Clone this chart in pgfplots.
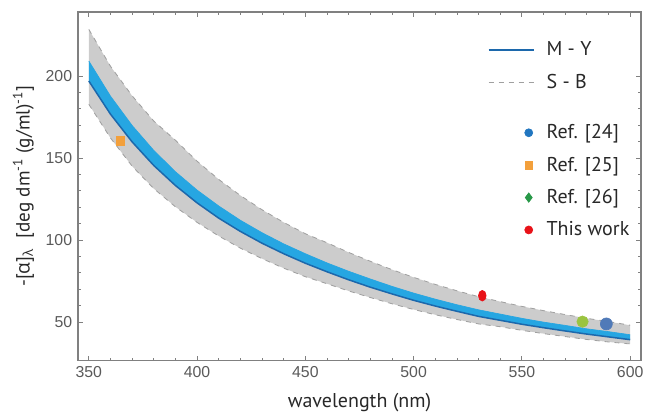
\documentclass[border=0pt]{standalone}
\usepackage{pgfplots}
\pgfplotsset{compat=1.18}
\usepgfplotslibrary{fillbetween}
\usepackage{pgfplotstable}
\usepackage{fontspec}
\setmainfont{PT Sans}
\newfontfamily\tickfont{Liberation Sans}
\newfontfamily\grk{Open Sans}
\definecolor{axisgray}{RGB}{128,128,128}
\definecolor{tickgray}{RGB}{90,90,90}
\definecolor{textdark}{RGB}{40,40,40}
\definecolor{sbfill}{RGB}{204,204,204}
\definecolor{sbedge}{RGB}{160,160,160}
\definecolor{myfill}{RGB}{38,166,226}
\definecolor{mydark}{RGB}{28,104,172}
\definecolor{refA}{RGB}{33,118,192}
\definecolor{refAplot}{RGB}{80,122,184}
\definecolor{refB}{RGB}{243,160,60}
\definecolor{refC}{RGB}{40,152,72}
\definecolor{refCplot}{RGB}{155,196,64}
\definecolor{thiswork}{RGB}{232,18,24}
\pgfplotsset{
  linelegend/.style={legend image code/.code={\draw[##1] (0pt,0pt) -- (27pt,0pt); \path (0pt,0pt) (32pt,0pt);}},
  marklegend/.style={legend image code/.code={\draw[##1] plot coordinates {(24pt,0pt)}; \path (0pt,0pt) (32pt,0pt);}},
}
\pgfplotstableread{
lam C myU myL sbU sbL
350 203.0 209.1 196.9 228.4 182.7
360 182.2 187.7 176.7 205.9 162.2
370 164.8 169.8 159.8 187.9 145.0
380 150.0 154.6 145.4 172.5 131.3
390 137.4 141.6 133.2 160.8 120.2
400 126.5 130.4 122.6 148.0 110.7
410 117.0 120.7 113.3 136.9 102.4
420 108.6 112.0 105.2 127.1 95.0
430 101.2 104.4 98.0 118.4 88.6
440 94.6 97.6 91.6 110.7 82.8
450 88.7 91.6 85.8 103.8 77.6
460 83.3 86.0 80.6 98.3 73.3
470 78.3 80.9 75.7 92.4 68.9
480 73.7 76.2 71.2 87.0 64.9
490 69.4 71.7 67.1 81.9 61.1
500 65.4 67.6 63.2 77.2 57.6
510 61.8 63.9 59.7 72.9 54.4
520 58.5 60.5 56.5 69.0 51.5
530 55.4 57.4 53.4 65.4 48.8
540 52.9 54.8 51.0 62.4 47.1
550 50.4 52.2 48.6 59.5 44.9
560 48.2 49.9 46.5 56.9 42.9
570 46.2 47.9 44.5 54.5 41.1
580 44.2 45.8 42.6 52.2 39.3
590 42.5 44.1 40.9 50.2 37.8
600 40.7 42.2 39.2 48.0 36.6
}\curvedata
\begin{document}
\begin{tikzpicture}
\begin{axis}[
  set layers,
  at={(0pt,0pt)}, anchor=south west,
  scale only axis, width=337.8pt, height=209.1pt,
  xmin=345, xmax=605, ymin=26.5, ymax=239,
  xtick={350,400,450,500,550,600}, ytick={50,100,150,200},
  minor x tick num=4, minor y tick num=4,
  tick align=inside, major tick length=3pt, minor tick length=1.8pt,
  axis line style={draw=axisgray, line width=0.8pt},
  every tick/.style={draw=axisgray, line width=0.5pt},
  tick label style={font=\tickfont\fontsize{9.5}{11}\selectfont, text=tickgray},
  /pgf/number format/assume math mode=true,
  xlabel={wavelength (nm)},
  xlabel style={at={(axis description cs:0.5,-0.122)}, anchor=center, font=\fontsize{12}{14}\selectfont, text=textdark},
  ylabel={-[{\grk α}]\textsubscript{\grk λ}\ \ [deg dm\textsuperscript{-1} (g/ml)\textsuperscript{-1}]},
  ylabel style={at={(axis description cs:-0.097,0.5)}, anchor=center, font=\fontsize{11.5}{13}\selectfont, text=textdark},
  legend style={draw=none, fill=none, at={(axis description cs:0.718,0.935)}, anchor=north west,
    font=\fontsize{12}{14}\selectfont, text=textdark, row sep=5.4pt},
  legend cell align=left,
]
\addplot[name path=sbU, draw=sbedge, dashed, line width=0.5pt, forget plot] table[x=lam,y=sbU]{\curvedata};
\addplot[name path=sbL, draw=sbedge, dashed, line width=0.5pt, forget plot] table[x=lam,y=sbL]{\curvedata};
\addplot[fill=sbfill, draw=none, forget plot] fill between[of=sbU and sbL];
\addplot[name path=myU, draw=myfill, line width=0.4pt, forget plot] table[x=lam,y=myU]{\curvedata};
\addplot[name path=myL, draw=mydark, line width=0.9pt, forget plot] table[x=lam,y=myL]{\curvedata};
\addplot[fill=myfill, draw=none, forget plot] fill between[of=myU and myL];
% data points
\addplot[only marks, mark=square*, mark size=2.6pt, color=refB, forget plot] coordinates {(364.6,160.5)};
\addplot[only marks, mark=*, mark size=3.4pt, color=refCplot, forget plot] coordinates {(578,50.2)};
\addplot[only marks, mark=*, mark size=3.6pt, color=refAplot, forget plot] coordinates {(589,48.8)};
\addplot[only marks, mark=*, mark size=3.2pt, mark options={xscale=0.72}, color=thiswork, forget plot] coordinates {(531.7,66)};
% legend
\addlegendimage{linelegend, color=mydark, line width=1.4pt}
\addlegendentry{M - Y}
\addlegendimage{linelegend, color=sbedge, dashed, line width=0.8pt}
\addlegendentry{S - B}
\addlegendimage{empty legend}
\addlegendentry{}
\addlegendimage{only marks, mark=*, mark size=2.4pt, color=refA, marklegend}
\addlegendentry{Ref. [24]}
\addlegendimage{only marks, mark=square*, mark size=2.2pt, color=refB, marklegend}
\addlegendentry{Ref. [25]}
\addlegendimage{only marks, mark=diamond*, mark size=2.8pt, color=refC, marklegend}
\addlegendentry{Ref. [26]}
\addlegendimage{only marks, mark=*, mark size=2.4pt, color=thiswork, marklegend}
\addlegendentry{This work}
\end{axis}
\pgfresetboundingbox
\useasboundingbox (-46.8pt,-32.1pt) rectangle (340.2pt,216.3pt);
\end{tikzpicture}
\end{document}
